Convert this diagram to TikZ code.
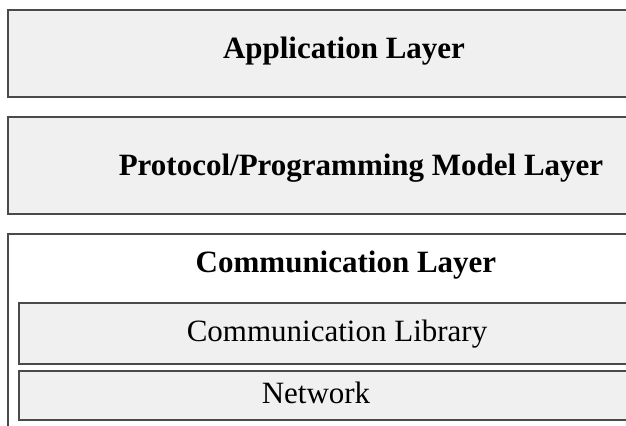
\documentclass[tikz,border=0pt]{standalone}
\usepackage{fontspec}
\setmainfont{Liberation Serif}
\usetikzlibrary{positioning}
\definecolor{layerfill}{HTML}{F0F0F0}
\definecolor{layerline}{HTML}{4A4A4A}

\begin{document}
\begin{tikzpicture}[
    x=0.5pt, y=-0.5pt,
    layerbox/.style={draw=layerline, line width=0.65pt, fill=#1},
    title/.style={font=\fontsize{15.5}{18}\selectfont\bfseries, inner sep=0pt, anchor=base},
    label/.style={font=\fontsize{15.5}{18}\selectfont, inner sep=0pt, anchor=base}
]
    \useasboundingbox (0,0) rectangle (626,425);
    \clip (0,0) rectangle (626,425);

    % Layer boxes
    \draw[layerbox=layerfill] (8,10) rectangle (660,97);
    \draw[layerbox=layerfill] (8,117) rectangle (660,214);
    \draw[layerbox=white] (8,234) rectangle (660,450);
    \draw[layerbox=layerfill] (19,303) rectangle (660,364);
    \draw[layerbox=layerfill] (19,371) rectangle (660,420);

    % Labels
    \node[title] (app) at (344,58) {Application Layer};
    \node[title] (proto) at (361,175) {Protocol/Programming Model Layer};
    \node[title] (comm) at (346,272) {Communication Layer};
    \node[label] (lib) at (337,341) {Communication Library};
    \node[label] (net) at (316,403) {Network};
\end{tikzpicture}
\end{document}
